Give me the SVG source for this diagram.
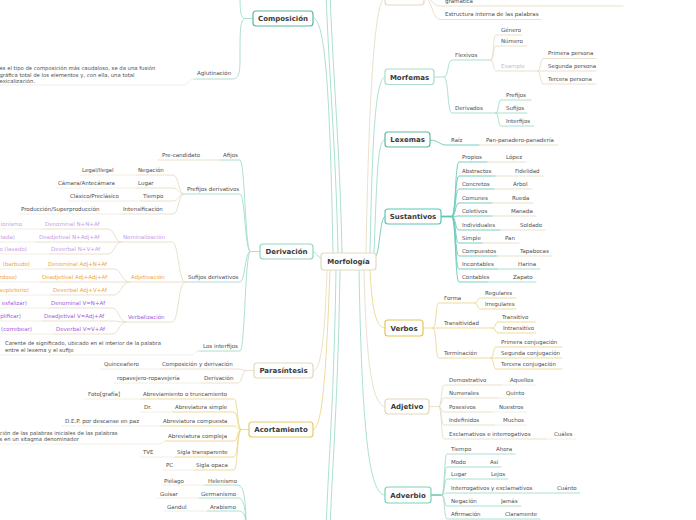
<svg xmlns="http://www.w3.org/2000/svg" width="696" height="520" viewBox="0 0 696 520">
<style>
text{font-family:"DejaVu Sans",Verdana,sans-serif;font-size:5.5px;fill:#4d4d4d}
.n{font-weight:bold;font-size:7px;fill:#3a3a3a;text-anchor:middle}
.e{text-anchor:end}
.lg{font-size:5.3px}
.bx{fill:#fff;stroke-width:1.2}
.c{fill:none;stroke-width:0.9;stroke-linecap:round}
.tl{stroke:#a3dccc}
.td{stroke:#6cc9b6}
.bg{stroke:#e6dec6}
.yl{stroke:#ecd78f}
.ft{stroke:#f0ece0}
.pu{fill:#a65ad9}
.lp{fill:#c79de3}
.or{fill:#f0a63a}
.gy{fill:#bdbdbd}
</style>
<rect width="696" height="520" fill="#fff"/>
<g id="connectors">
<path class="c tl" d="M313 18 C326 18 330 100 333 253"/>
<path class="c tl" d="M338 253 C336 150 328 60 326 -10"/>
<path class="c tl" d="M342 253 C340 150 332 60 330 -10"/>
<path class="c tl" d="M313 252 C317 252 318 258 321 258"/>
<path class="c bg" d="M327 270 C325 330 322 371 313 371"/>
<path class="c yl" d="M330 270 C326 380 322 429.5 313 429.5"/>
<path class="c tl" d="M336 270 C334 400 328 470 326 530"/>
<path class="c tl" d="M340 270 C338 400 332 470 330 530"/>
<path class="c bg" d="M366 253 C368 150 372 -3 385 -3"/>
<path class="c tl" d="M370 253 C372 160 374 77 385 77"/>
<path class="c tl" d="M374 253 C377 180 377 139.5 385 139.5"/>
<path class="c td" d="M376 256 C380 250 380 216.5 385 216.5"/>
<path class="c yl" d="M370 270 C372 310 376 328 385 328"/>
<path class="c bg" d="M364 270 C366 360 372 406.5 385 406.5"/>
<path class="c tl" d="M359 270 C362 440 370 495 385 495"/>
<!-- top box -->
<path class="c bg" d="M424 -3 C432 -3 432 6 440 6 H623"/>
<path class="c bg" d="M424 -3 C432 -3 432 19.5 440 19.5 H541"/>
<!-- Morfemas -->
<path class="c tl" d="M434 77 H444 C449 77 447 60 452 60 H491"/>
<path class="c tl" d="M444 77 C449 77 447 113 452 113 H496"/>
<path class="c bg" d="M491 60 C494 60 493 35 496 35 H522"/>
<path class="c bg" d="M491 60 C494 60 493 46 496 46 H527"/>
<path class="c bg" d="M491 60 C494 60 493 71 496 71 H538"/>
<path class="c bg" d="M538 71 C541 71 540 58.5 543 58.5 H596"/>
<path class="c bg" d="M538 71 H596"/>
<path class="c bg" d="M538 71 C541 71 540 84 543 84 H596"/>
<path class="c tl" d="M496 113 C499 113 498 100 501 100 H531"/>
<path class="c tl" d="M496 113 H527"/>
<path class="c tl" d="M496 113 C499 113 498 126 501 126 H534"/>
<!-- Lexemas -->
<path class="c td" d="M430 140 C438 140 440 145 446 145 H479"/>
<path class="c bg" d="M479 145 H558"/>
<!-- Sustantivos -->
<path d="M441 216.5 H452" fill="none" stroke="#5dc5b8" stroke-width="1.8"/>
<g class="c td">
<path d="M452 216.5 C456 216.5 455 162 459 162 H487"/>
<path d="M452 216.5 C456 216.5 455 176 459 176 H495"/>
<path d="M452 216.5 C456 216.5 455 189 459 189 H494"/>
<path d="M452 216.5 C456 216.5 455 203 459 203 H492"/>
<path d="M452 216.5 C456 216.5 455 216 459 216 H492"/>
<path d="M452 216.5 C456 216.5 455 230 459 230 H500"/>
<path d="M452 216.5 C456 216.5 455 243 459 243 H482"/>
<path d="M452 216.5 C456 216.5 455 256 459 256 H497"/>
<path d="M452 216.5 C456 216.5 455 269 459 269 H497"/>
<path d="M452 216.5 C456 216.5 455 282 459 282 H487"/>
</g>
<g class="c bg">
<path d="M487 162 H526"/><path d="M495 176 H543"/><path d="M494 189 H532"/><path d="M492 203 H533"/><path d="M492 216 H536"/>
<path d="M500 230 H545"/><path d="M482 243 H519"/><path d="M497 256 H552"/>
</g>
<path class="c tl" d="M497 269 H540"/><path class="c tl" d="M487 282 H536"/>
<!-- Verbos -->
<g class="c yl">
<path d="M423 328 H433"/>
<path d="M433 328 C437 328 435 303 439 303 H475"/>
<path d="M433 328 H493"/>
<path d="M433 328 C437 328 435 358 439 358 H491"/>
<path d="M475 303 C478 303 477 298 480 298 H516"/>
<path d="M475 303 C478 303 477 309 480 309 H516"/>
<path d="M493 328 C496 328 495 322 498 322 H536"/>
<path d="M493 328 C496 328 495 333 498 333 H536"/>
<path d="M491 358 C494 358 493 347 496 347 H562"/>
<path d="M491 358 H562"/>
<path d="M491 358 C494 358 493 369 496 369 H562"/>
</g>
<!-- Adjetivo -->
<g class="c bg">
<path d="M429 406.5 H439"/>
<path d="M439 406.5 C442 406.5 441 385 444 385 H502"/>
<path d="M439 406.5 C442 406.5 441 398 444 398 H498"/>
<path d="M439 406.5 C442 406.5 441 412 444 412 H491"/>
<path d="M439 406.5 C442 406.5 441 425 444 425 H495"/>
<path d="M439 406.5 C442 406.5 441 439 444 439 H546"/>
</g>
<g class="c ft">
<path d="M502 385 H536"/><path d="M498 398 H524"/><path d="M491 412 H527"/><path d="M495 425 H527"/><path d="M546 439 H576"/>
</g>
<!-- Adverbio -->
<path d="M431 495 H442" fill="none" stroke="#7fd1b5" stroke-width="1.8"/>
<g class="c tl">
<path d="M442 495 C445 495 444 454 447 454 H515"/>
<path d="M442 495 C445 495 444 467 447 467 H501"/>
<path d="M442 495 C445 495 444 479 447 479 H508"/>
<path d="M442 495 C445 495 444 493 447 493 H580"/>
<path d="M442 495 C445 495 444 506 447 506 H521"/>
<path d="M442 495 C445 495 444 519 447 519 H540"/>
</g>
<!-- Composicion -->
<g class="c tl">
<path d="M253 18.5 H245"/>
<path d="M245 18.5 C240 18.5 240 10 240 -10"/>
<path d="M245 18.5 C240 18.5 240 30 240 60 C240 75 238 79 232 79 H194"/>
</g>
<path class="c ft" d="M194 79 C188 79 189 85 183 85 H-5"/>
<!-- Derivacion -->
<g class="c tl">
<path d="M260 251.5 H250"/>
<path d="M250 251.5 C245 251.5 245 160 240 160 H220"/>
<path d="M250 251.5 C245 251.5 245 194 240 194 H184"/>
<path d="M250 251.5 C245 251.5 245 282 240 282 H185"/>
<path d="M250 251.5 C245 251.5 245 351 240 351 H199"/>
</g>
<path class="c bg" d="M220 160 H158"/>
<path class="c ft" d="M199 351 C194 351 195 355 190 355 H-5"/>
<g class="c bg">
<path d="M184 194 C178 194 179 175 173 175 H136"/>
<path d="M184 194 C178 194 179 188 173 188 H136"/>
<path d="M184 194 C178 194 179 201 173 201 H141"/>
<path d="M184 194 C178 194 179 214 173 214 H121"/>
<path d="M185 282 C178 282 179 242 172 242 H121"/>
<path d="M185 282 H129"/>
<path d="M185 282 C178 282 179 322 172 322 H126"/>
<path d="M121 242 C114 242 115 229 108 229 H43"/>
<path d="M121 242 H37"/>
<path d="M121 242 C114 242 115 254 108 254 H49"/>
<path d="M129 282 C122 282 121 269 114 269 H46"/>
<path d="M129 282 H40"/>
<path d="M129 282 C122 282 121 295 114 295 H51"/>
<path d="M126 322 C119 322 119 308 112 308 H49"/>
<path d="M126 322 C119 322 119 321 112 321 H42"/>
<path d="M126 322 C119 322 119 334 112 334 H54"/>
</g>
<g class="c ft">
<path d="M136 175 H80"/><path d="M136 188 H56"/><path d="M141 201 H68"/><path d="M121 214 H19"/>
<path d="M43 229 H-5"/><path d="M37 242 H-5"/><path d="M49 254 H-5"/>
<path d="M46 269 H-5"/><path d="M40 282 H-5"/><path d="M51 295 H-5"/>
<path d="M49 308 H-5"/><path d="M42 321 H-5"/><path d="M54 334 H-5"/>
</g>
<!-- Parasintesis -->
<g class="c bg">
<path d="M254 370.5 H246"/>
<path d="M246 370.5 C242 370.5 242 369 238 369 H160"/>
<path d="M246 370.5 C242 370.5 242 383 238 383 H201"/>
</g>
<path class="c ft" d="M160 369 H101"/><path class="c ft" d="M201 383 H114"/>
<!-- Acortamiento -->
<g class="c yl">
<path d="M249 429.5 H241"/>
<path d="M241 429.5 C237 429.5 238 399 234 399 H141"/>
<path d="M241 429.5 C237 429.5 238 412 234 412 H173"/>
<path d="M241 429.5 C237 429.5 238 426 234 426 H161"/>
<path d="M241 429.5 C237 429.5 238 441 234 441 H166"/>
<path d="M241 429.5 C237 429.5 238 457 234 457 H175"/>
<path d="M241 429.5 C237 429.5 238 470 234 470 H194"/>
</g>
<g class="c ft">
<path d="M141 399 H85"/><path d="M173 412 H141"/><path d="M161 426 H62"/>
<path d="M166 441 C162 441 163 444 159 444 H-5"/><path d="M175 457 H140"/><path d="M194 470 H163"/>
</g>
<!-- bottom group -->
<g class="c tl">
<path d="M246 530 C246 500 244 485 238 485 H205"/>
<path d="M246 530 C246 510 244 498 238 498 H199"/>
<path d="M246 530 C246 515 244 511 238 511 H207"/>
<path d="M246 530 C246 522 244 524 238 524 H200"/>
</g>
<g class="c ft">
<path d="M205 485 H161"/><path d="M199 498 H157"/><path d="M207 511 H164"/>
</g>
</g>

<g id="n-morfologia"><rect class="bx" x="321" y="253" width="55" height="17" rx="3" stroke="#e2d9bd"/><text class="n" x="348.5" y="264">Morfología</text></g>
<g id="n-top"><rect class="bx" x="385" y="-13" width="39" height="18" rx="3" stroke="#e2d9bd"/><text class="n" x="404.5" y="-1.5">Palabra</text></g>
<g id="n-gramatica"><text x="445" y="3">gramática</text></g>
<g id="n-estructura"><text x="445" y="16">Estructura interna de las palabras</text></g>

<g id="n-morfemas"><rect class="bx" x="385" y="69" width="49" height="15.5" rx="3" stroke="#a9ddc9"/><text class="n" x="409.5" y="79.5">Morfemas</text></g>
<g id="n-flexivos"><text x="455" y="57">Flexivos</text></g>
<g id="n-derivados"><text x="455" y="110">Derivados</text></g>
<g id="n-genero"><text x="501" y="32">Género</text></g>
<g id="n-numero"><text x="501" y="43">Número</text></g>
<g id="n-example"><text class="gy" x="501" y="68">Example</text></g>
<g id="n-primera"><text x="548" y="55">Primera persona</text></g>
<g id="n-segunda"><text x="548" y="68">Segunda persona</text></g>
<g id="n-tercera"><text x="548" y="81">Tercera persona</text></g>
<g id="n-prefijos"><text x="506" y="97">Prefijos</text></g>
<g id="n-sufijos"><text x="506" y="110">Sufijos</text></g>
<g id="n-interfijos"><text x="506" y="123">Interfijos</text></g>

<g id="n-lexemas"><rect class="bx" x="385" y="132" width="45" height="15" rx="3" stroke="#5fb9a2"/><text class="n" x="407.5" y="142">Lexemas</text></g>
<g id="n-raiz"><text x="451" y="142">Raíz</text></g>
<g id="n-pan"><text x="486" y="142">Pan-panadero-panadería</text></g>

<g id="n-sustantivos"><rect class="bx" x="385" y="209" width="56" height="15" rx="3" stroke="#5dc5b8" stroke-width="1.5"/><text class="n" x="413" y="219">Sustantivos</text></g>
<g id="n-sust-items">
<g id="n-propios"><text x="462" y="159">Propios</text><text x="506" y="159">López</text></g>
<g id="n-abstractos"><text x="462" y="173">Abstractos</text><text x="515" y="173">Fidelidad</text></g>
<g id="n-concretos"><text x="462" y="186">Concretos</text><text x="513" y="186">Árbol</text></g>
<g id="n-comunes"><text x="462" y="200">Comunes</text><text x="512" y="200">Rueda</text></g>
<g id="n-coletivos"><text x="462" y="213">Coletivos</text><text x="511" y="213">Manada</text></g>
<g id="n-individuales"><text x="462" y="227">Individuales</text><text x="520" y="227">Soldado</text></g>
<g id="n-simple"><text x="462" y="240">Simple</text><text x="505" y="240">Pan</text></g>
<g id="n-compuestos"><text x="462" y="253">Compuestos</text><text x="520" y="253">Tapabocas</text></g>
<g id="n-incontables"><text x="462" y="266">Incontables</text><text x="518" y="266">Harina</text></g>
<g id="n-contables"><text x="462" y="279">Contables</text><text x="513" y="279">Zapato</text></g>
</g>

<g id="n-verbos"><rect class="bx" x="385" y="320" width="38" height="16" rx="3" stroke="#e3c558"/><text class="n" x="404" y="330.5">Verbos</text></g>
<g id="n-forma"><text x="444" y="300">Forma</text></g>
<g id="n-transitividad"><text x="444" y="325">Transitividad</text></g>
<g id="n-terminacion"><text x="444" y="355">Terminación</text></g>
<g id="n-regulares"><text x="485" y="295">Regulares</text></g>
<g id="n-irregulares"><text x="485" y="306">Irregulares</text></g>
<g id="n-transitivo"><text x="502" y="319">Transitivo</text></g>
<g id="n-intransitivo"><text x="503" y="330">Intransitivo</text></g>
<g id="n-conj1"><text x="501" y="344">Primera conjugación</text></g>
<g id="n-conj2"><text x="501" y="355">Segunda conjugación</text></g>
<g id="n-conj3"><text x="501" y="366">Tercera conjugación</text></g>

<g id="n-adjetivo"><rect class="bx" x="385" y="399" width="44" height="15" rx="3" stroke="#e2d8bb"/><text class="n" x="407" y="409">Adjetivo</text></g>
<g id="n-adj-items">
<g id="n-demostrativo"><text x="449" y="382">Demostrativo</text><text x="510" y="382">Aquellos</text></g>
<g id="n-numerales"><text x="449" y="395">Numerales</text><text x="506" y="395">Quinto</text></g>
<g id="n-posesivos"><text x="449" y="409">Posesivos</text><text x="499" y="409">Nuestros</text></g>
<g id="n-indefinidos"><text x="449" y="422">Indefinidos</text><text x="503" y="422">Muchos</text></g>
<g id="n-exclamativos"><text x="449" y="436">Exclamativos e interrogativos</text><text x="554" y="436">Cuáles</text></g>
</g>

<g id="n-adverbio"><rect class="bx" x="385" y="487" width="46" height="16" rx="3" stroke="#7fd1b5"/><text class="n" x="408" y="497.5">Adverbio</text></g>
<g id="n-adv-items">
<g id="n-tiempo"><text x="451" y="451">Tiempo</text><text x="496" y="451">Ahora</text></g>
<g id="n-modo"><text x="451" y="464">Modo</text><text x="490" y="464">Así</text></g>
<g id="n-lugar"><text x="451" y="476">Lugar</text><text x="491" y="476">Lejos</text></g>
<g id="n-interrog"><text x="451" y="490">Interrogativos y exclamativos</text><text x="557" y="490">Cuánto</text></g>
<g id="n-negacion-adv"><text x="451" y="503">Negación</text><text x="501" y="503">Jamás</text></g>
<g id="n-afirmacion"><text x="451" y="516">Afirmación</text><text x="505" y="516">Claramente</text></g>
</g>

<g id="n-composicion"><rect class="bx" x="253" y="11" width="60" height="15" rx="3" stroke="#5cb89e"/><text class="n" x="283" y="21">Composición</text></g>
<g id="n-aglutinacion"><text x="197" y="75">Aglutinación</text></g>
<g id="n-aglut-def"><text class="lg" x="-0.5" y="70">es el tipo de composición más caudaloso, se da una fusión</text><text class="lg" x="-0.5" y="76.5">gráfica total de los elementos y, con ella, una total</text><text class="lg" x="-0.5" y="83">exicalización.</text></g>

<g id="n-derivacion"><rect class="bx" x="260" y="244" width="53" height="15" rx="3" stroke="#93d5c0"/><text class="n" x="286.5" y="254">Derivación</text></g>
<g id="n-afijos"><text x="223" y="157">Afijos</text></g>
<g id="n-precandidato"><text x="162" y="157">Pre-candidato</text></g>
<g id="n-prefijos-der"><text x="187" y="191">Prefijos derivativos</text></g>
<g id="n-negacion"><text x="138" y="172">Negación</text><text x="82" y="172">Legal/Ilegal</text></g>
<g id="n-lugar-pref"><text x="138" y="185">Lugar</text><text x="58" y="185">Cámara/Antecámara</text></g>
<g id="n-tiempo-pref"><text x="143" y="198">Tiempo</text><text x="70" y="198">Clásico/Preclásico</text></g>
<g id="n-intensificacion"><text x="123" y="211">Intensificación</text><text x="21" y="211">Producción/Superproducción</text></g>
<g id="n-sufijos-der"><text x="188" y="279">Sufijos derivativos</text></g>
<g id="n-nominalizacion"><text class="lp" x="123" y="239">Nominalización</text></g>
<g id="n-adjetivacion"><text class="or" x="131" y="279">Adjetivación</text></g>
<g id="n-verbalizacion"><text class="pu" x="128" y="319">Verbalización</text></g>
<g id="n-nom-items" class="lp">
<text class="lp" x="45" y="226">Denominal N+N+Af</text><text class="lp e" x="22" y="226">ionismo</text>
<text class="lp" x="39" y="239">Deadjetival N+Adj+Af</text><text class="lp e" x="15" y="239">tada)</text>
<text class="lp" x="51" y="251">Deverbal N+V+Af</text><text class="lp e" x="27" y="251">o (lavado)</text>
</g>
<g id="n-adj-suf-items">
<text class="or" x="48" y="266">Denominal Adj+N+Af</text><text class="or e" x="30" y="266">(barbudo)</text>
<text class="or" x="42" y="279">Deadjetival Adj+Adj+Af</text><text class="or e" x="17" y="279">rdoso)</text>
<text class="or" x="53" y="292">Deverbal Adj+V+Af</text><text class="or e" x="29" y="292">supletorio)</text>
</g>
<g id="n-verb-items">
<text class="pu" x="51" y="305">Denominal V=N+Af</text><text class="pu e" x="27" y="305">esfalizar)</text>
<text class="pu" x="44" y="318">Deadjetival V=Adj+Af</text><text class="pu e" x="21" y="318">plificar)</text>
<text class="pu" x="56" y="331">Deverbal V=V+Af</text><text class="pu e" x="32" y="331">r (correbear)</text>
</g>
<g id="n-interfijos-der"><text x="203" y="348">Los interfijos</text></g>
<g id="n-interfijos-def"><text class="lg" x="5" y="345">Carente de significado, ubicado en el interior de la palabra</text><text class="lg" x="5" y="351.5">entre el lexema y el sufijo</text></g>

<g id="n-parasintesis"><rect class="bx" x="254" y="363" width="59" height="15" rx="3" stroke="#e2d9bd"/><text class="n" x="283.5" y="373">Parasíntesis</text></g>
<g id="n-compder"><text x="162" y="366">Composición y derivación</text></g>
<g id="n-quinceanero"><text x="104" y="366">Quinceañero</text></g>
<g id="n-derivacion2"><text x="204" y="380">Derivación</text></g>
<g id="n-ropavejero"><text x="117" y="380">ropavejero-ropavejería</text></g>

<g id="n-acortamiento"><rect class="bx" x="249" y="422" width="64" height="15" rx="3" stroke="#e5cb67"/><text class="n" x="281" y="432">Acortamiento</text></g>
<g id="n-abrev1"><text x="143" y="396">Abreviamiento o truncamiento</text><text x="88" y="396">Foto[grafía]</text></g>
<g id="n-abrev2"><text x="175" y="409">Abreviatura simple</text><text x="144" y="409">Dr.</text></g>
<g id="n-abrev3"><text x="163" y="423">Abreviatura compuesta</text><text x="65" y="423">D.E.P. por descanse en paz</text></g>
<g id="n-abrev4"><text x="168" y="438">Abreviatura compleja</text><text class="lg" x="-0.5" y="435">ción de las palabras iniciales de las palabras</text><text class="lg" x="-0.5" y="441">s en un sitagma denominador</text></g>
<g id="n-sigla1"><text x="177" y="454">Sigla transparente</text><text x="143" y="454">TVE</text></g>
<g id="n-sigla2"><text x="196" y="467">Sigla opaca</text><text x="166" y="467">PC</text></g>

<g id="n-helenismo"><text x="208" y="483">Helenismo</text><text x="164" y="483">Piélago</text></g>
<g id="n-germanismo"><text x="201" y="496">Germanismo</text><text x="160" y="496">Guisar</text></g>
<g id="n-arabismo"><text x="210" y="509">Arabismo</text><text x="167" y="509">Gandul</text></g>
</svg>
